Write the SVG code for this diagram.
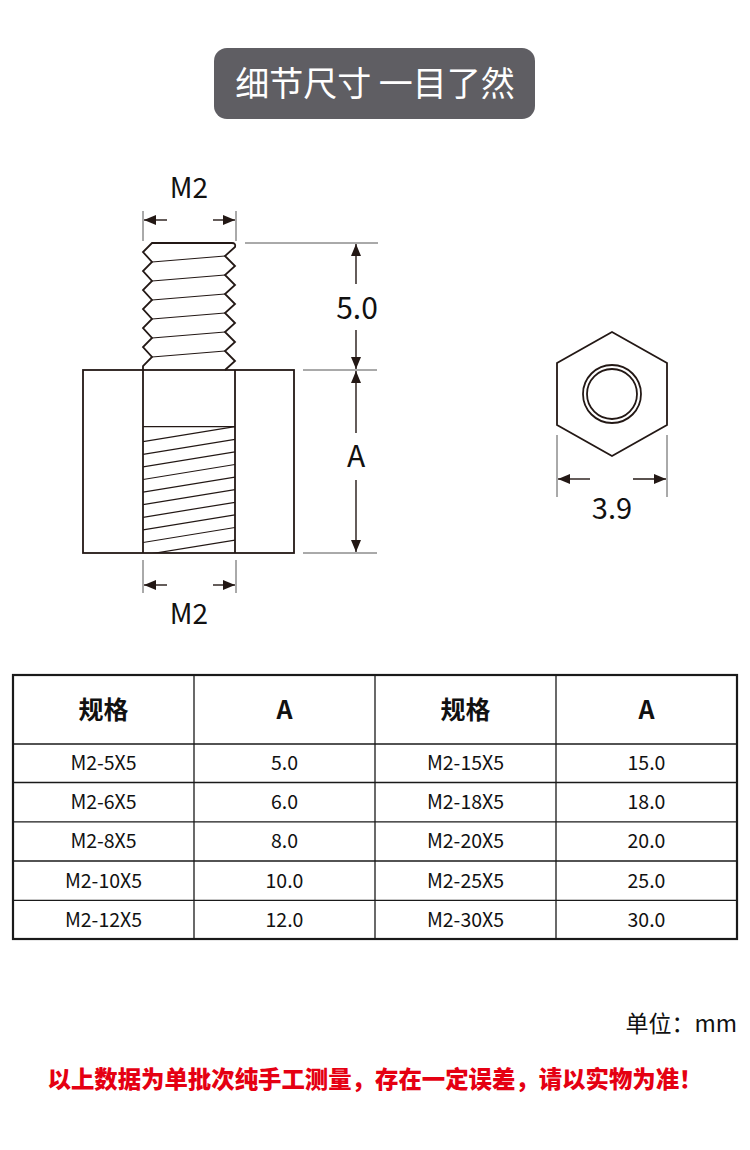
<svg xmlns="http://www.w3.org/2000/svg" width="750" height="1150" viewBox="0 0 750 1150">
<defs>
<marker id="ah" viewBox="0 0 12 10" refX="12" refY="5" markerWidth="13" markerHeight="10" markerUnits="userSpaceOnUse" orient="auto">
<path d="M0,0 L12,5 L0,10 Z" fill="#231815"/>
</marker>
<clipPath id="bore"><rect x="143" y="426" width="92" height="127"/></clipPath>
</defs>
<style>
.ln{fill:none;stroke:#231815;stroke-width:1.8;stroke-linejoin:miter}
.thin{fill:none;stroke:#231815;stroke-width:1.2}
.ext{fill:none;stroke:#555;stroke-width:1}
.dim{fill:none;stroke:#231815;stroke-width:1.4}
.lbl{font-family:"Noto Sans CJK SC","Noto Sans",sans-serif;fill:#111;text-anchor:middle}
.cell{font-family:"Noto Sans CJK SC","Noto Sans",sans-serif;font-size:19.5px;fill:#111;text-anchor:middle}
.head{font-family:"Noto Sans CJK SC","Noto Sans",sans-serif;font-size:25px;font-weight:bold;fill:#111;text-anchor:middle}
.grid{stroke:#1a1a1a;stroke-width:1.3}
</style>
<rect width="750" height="1150" fill="#ffffff"/>

<g id="title">
<rect x="214" y="48" width="321" height="71" rx="13" fill="#5f5e63"/>
<text x="375" y="96" font-family="Noto Sans CJK SC,sans-serif" font-size="34" fill="#ffffff" text-anchor="middle">细节尺寸 一目了然</text>
</g>

<g id="standoff">
<rect class="ln" x="83" y="370" width="211" height="183"/>
<line class="ln" x1="143" y1="370" x2="143" y2="553"/>
<line class="ln" x1="235" y1="370" x2="235" y2="553"/>
<line class="thin" x1="143" y1="426.7" x2="235" y2="426.7"/>
<g clip-path="url(#bore)" class="thin">
<line x1="143" y1="441.7" x2="235" y2="426.7"/>
<line x1="143" y1="454.3" x2="235" y2="439.3"/>
<line x1="143" y1="466.9" x2="235" y2="451.9"/>
<line x1="143" y1="479.5" x2="235" y2="464.5"/>
<line x1="143" y1="492.1" x2="235" y2="477.1"/>
<line x1="143" y1="504.7" x2="235" y2="489.7"/>
<line x1="143" y1="517.3" x2="235" y2="502.3"/>
<line x1="143" y1="529.9" x2="235" y2="514.9"/>
<line x1="143" y1="542.5" x2="235" y2="527.5"/>
<line x1="143" y1="555.1" x2="235" y2="540.1"/>
</g>
<path class="ln" d="M143,370 L143,366 L152,357 L143,347 L152,338 L143,328 L152,319 L143,309 L152,300 L143,290 L152,281 L143,271 L152,262 L143,252 L152,243 L232,243 Q236,243 235,247 L225,256 L235,266 L225,275 L235,285 L225,294 L235,304 L225,313 L235,323 L225,332 L235,342 L225,351 L235,361 L225,370"/>
<g class="thin">
<line x1="152" y1="262" x2="225" y2="256"/>
<line x1="152" y1="281" x2="225" y2="275"/>
<line x1="152" y1="300" x2="225" y2="294"/>
<line x1="152" y1="319" x2="225" y2="313"/>
<line x1="152" y1="338" x2="225" y2="332"/>
<line x1="152" y1="357" x2="225" y2="351"/>
</g>
</g>

<g id="hexnut">
<polygon class="ln" points="612,332 667,363 667,425 612,456 557,425 557,363"/>
<circle class="ln" cx="612" cy="394" r="29"/>
<circle class="ln" cx="612" cy="394" r="25"/>
</g>

<g id="dimensions">
<line class="ext" x1="143" y1="211" x2="143" y2="241"/>
<line class="ext" x1="236" y1="211" x2="236" y2="241"/>
<line class="dim" x1="167" y1="220" x2="144" y2="220" marker-end="url(#ah)"/>
<line class="dim" x1="213" y1="220" x2="235" y2="220" marker-end="url(#ah)"/>
<line class="ext" x1="143" y1="560" x2="143" y2="593"/>
<line class="ext" x1="236" y1="560" x2="236" y2="593"/>
<line class="dim" x1="167" y1="585" x2="144" y2="585" marker-end="url(#ah)"/>
<line class="dim" x1="213" y1="585" x2="235" y2="585" marker-end="url(#ah)"/>
<line class="ext" x1="245" y1="243" x2="378" y2="243"/>
<line class="ext" x1="303" y1="370" x2="377" y2="370"/>
<line class="ext" x1="303" y1="553" x2="377" y2="553"/>
<line class="dim" x1="356" y1="284" x2="356" y2="244" marker-end="url(#ah)"/>
<line class="dim" x1="356" y1="330" x2="356" y2="369" marker-end="url(#ah)"/>
<line class="dim" x1="356" y1="433" x2="356" y2="371" marker-end="url(#ah)"/>
<line class="dim" x1="356" y1="480" x2="356" y2="552" marker-end="url(#ah)"/>
<line class="ext" x1="557" y1="435" x2="557" y2="497"/>
<line class="ext" x1="667" y1="435" x2="667" y2="497"/>
<line class="dim" x1="590" y1="479" x2="558" y2="479" marker-end="url(#ah)"/>
<line class="dim" x1="633" y1="479" x2="666" y2="479" marker-end="url(#ah)"/>
</g>

<g id="dim-labels">
<text class="lbl" x="189" y="198" font-size="28">M2</text>
<text class="lbl" x="189" y="624" font-size="28">M2</text>
<text class="lbl" x="357" y="319" font-size="30">5.0</text>
<text class="lbl" x="356" y="467" font-size="30">A</text>
<text class="lbl" x="612" y="519" font-size="29">3.9</text>
</g>

<g id="table">
<rect x="13" y="675" width="724" height="264" fill="none" stroke="#1a1a1a" stroke-width="2.2"/>
<line class="grid" x1="194" y1="675" x2="194" y2="939"/>
<line class="grid" x1="375" y1="675" x2="375" y2="939"/>
<line class="grid" x1="556" y1="675" x2="556" y2="939"/>
<line class="grid" x1="13" y1="744" x2="737" y2="744"/>
<line class="grid" x1="13" y1="782.5" x2="737" y2="782.5"/>
<line class="grid" x1="13" y1="821.8" x2="737" y2="821.8"/>
<line class="grid" x1="13" y1="861" x2="737" y2="861"/>
<line class="grid" x1="13" y1="900.3" x2="737" y2="900.3"/>
<text class="head" x="103.5" y="719">规格</text>
<text class="head" x="284.5" y="719">A</text>
<text class="head" x="465.5" y="719">规格</text>
<text class="head" x="646.5" y="719">A</text>
<text class="cell" x="103.5" y="770">M2-5X5</text>
<text class="cell" x="284.5" y="770">5.0</text>
<text class="cell" x="465.5" y="770">M2-15X5</text>
<text class="cell" x="646.5" y="770">15.0</text>
<text class="cell" x="103.5" y="809">M2-6X5</text>
<text class="cell" x="284.5" y="809">6.0</text>
<text class="cell" x="465.5" y="809">M2-18X5</text>
<text class="cell" x="646.5" y="809">18.0</text>
<text class="cell" x="103.5" y="848">M2-8X5</text>
<text class="cell" x="284.5" y="848">8.0</text>
<text class="cell" x="465.5" y="848">M2-20X5</text>
<text class="cell" x="646.5" y="848">20.0</text>
<text class="cell" x="103.5" y="887.5">M2-10X5</text>
<text class="cell" x="284.5" y="887.5">10.0</text>
<text class="cell" x="465.5" y="887.5">M2-25X5</text>
<text class="cell" x="646.5" y="887.5">25.0</text>
<text class="cell" x="103.5" y="927">M2-12X5</text>
<text class="cell" x="284.5" y="927">12.0</text>
<text class="cell" x="465.5" y="927">M2-30X5</text>
<text class="cell" x="646.5" y="927">30.0</text>
</g>

<g id="notes">
<text x="737" y="1032" font-family="Noto Sans CJK SC,sans-serif" font-size="23" fill="#111" text-anchor="end">单位：mm</text>
<text x="375" y="1088" font-family="Noto Sans CJK SC,sans-serif" font-size="23.4" font-weight="900" fill="#e50012" text-anchor="middle">以上数据为单批次纯手工测量，存在一定误差，请以实物为准！</text>
</g>
</svg>
